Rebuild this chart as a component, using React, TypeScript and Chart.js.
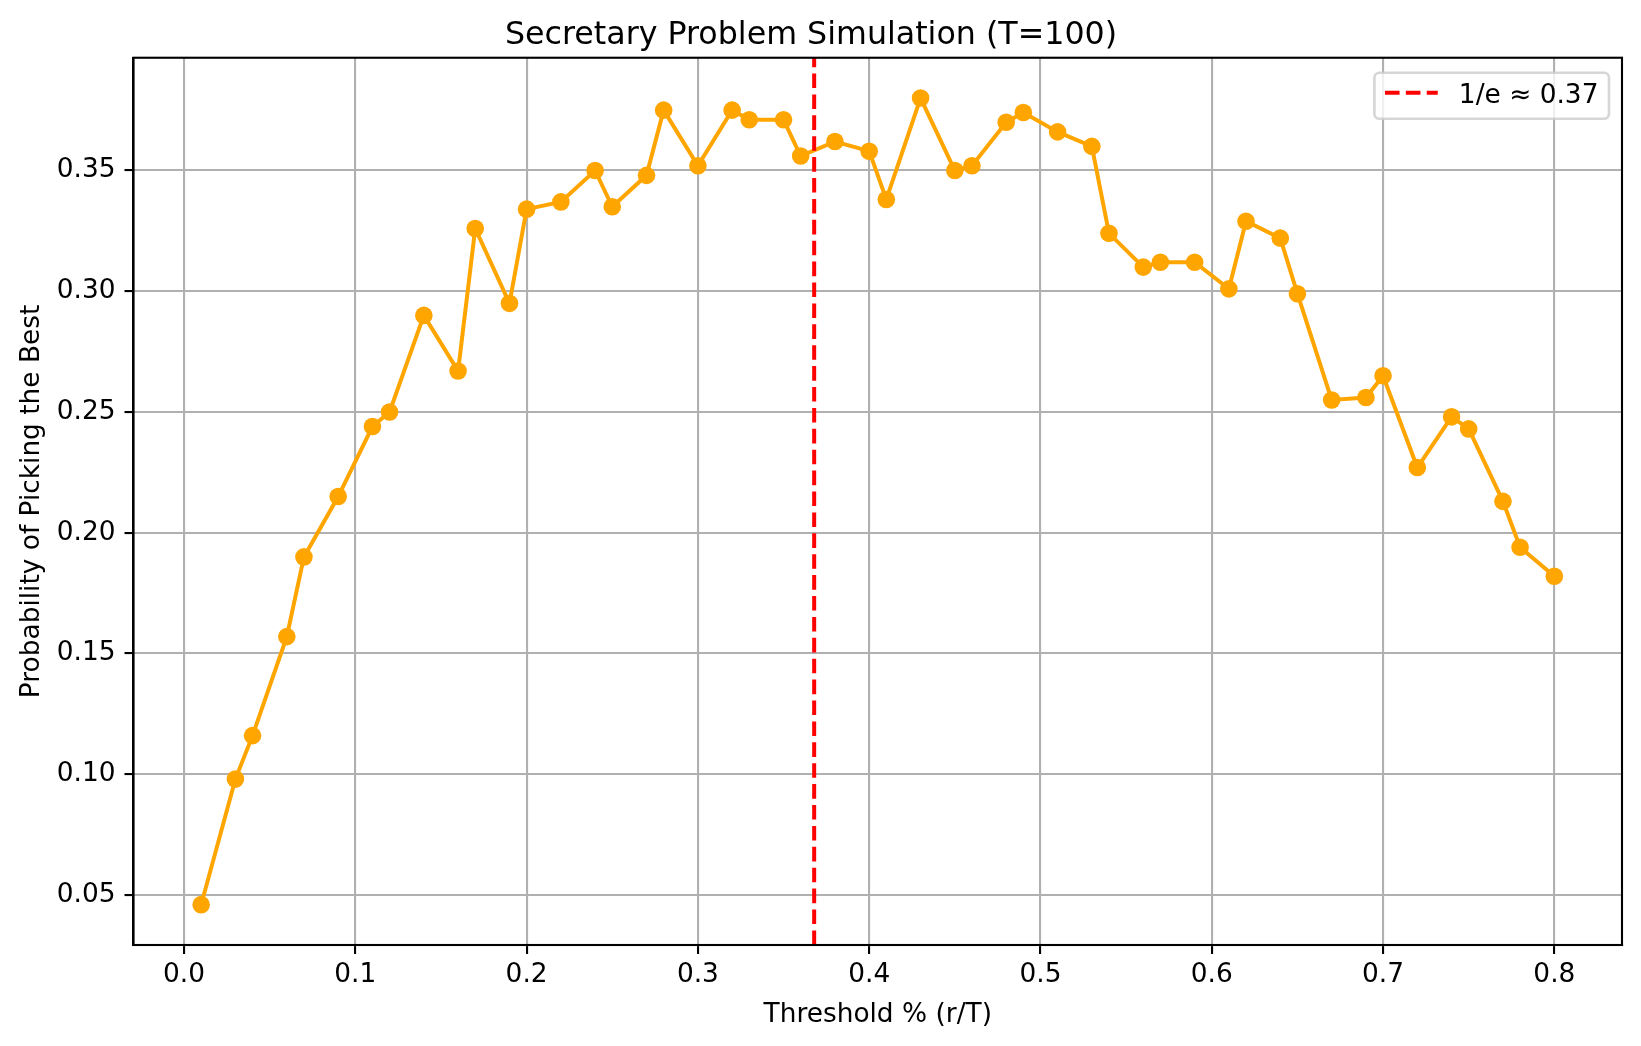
import React, { useEffect, useRef } from "react";
import { Chart, registerables } from "chart.js";

Chart.register(...registerables);

// ---- Data ----
const THRESHOLDS = [
  0.01, 0.03, 0.04, 0.06, 0.07, 0.09, 0.11, 0.12, 0.14, 0.16,
  0.17, 0.19, 0.2, 0.22, 0.24, 0.25, 0.27, 0.28, 0.3, 0.32,
  0.33, 0.35, 0.36, 0.38, 0.4, 0.41, 0.43, 0.45, 0.46, 0.48,
  0.49, 0.51, 0.53, 0.54, 0.56, 0.57, 0.59, 0.61, 0.62, 0.64,
  0.65, 0.67, 0.69, 0.7, 0.72, 0.74, 0.75, 0.77, 0.78, 0.8,
];
const PROBABILITIES = [
  0.046, 0.098, 0.116, 0.157, 0.19, 0.215, 0.244, 0.25, 0.29, 0.267,
  0.326, 0.295, 0.334, 0.337, 0.35, 0.335, 0.348, 0.375, 0.352, 0.375,
  0.371, 0.371, 0.356, 0.362, 0.358, 0.338, 0.38, 0.35, 0.352, 0.37,
  0.374, 0.366, 0.36, 0.324, 0.31, 0.312, 0.312, 0.301, 0.329, 0.322,
  0.299, 0.255, 0.256, 0.265, 0.227, 0.248, 0.243, 0.213, 0.194, 0.182,
];
const INV_E = 1 / Math.E;

const X_TICKS = [0, 0.1, 0.2, 0.3, 0.4, 0.5, 0.6, 0.7, 0.8];
const X_TICK_LABELS = ["0.0", "0.1", "0.2", "0.3", "0.4", "0.5", "0.6", "0.7", "0.8"];
const Y_TICKS = [0.05, 0.1, 0.15, 0.2, 0.25, 0.3, 0.35];
const Y_TICK_LABELS = ["0.05", "0.10", "0.15", "0.20", "0.25", "0.30", "0.35"];

const TITLE = "Secretary Problem Simulation (T=100)";
const X_LABEL = "Threshold % (r/T)";
const Y_LABEL = "Probability of Picking the Best";
const SERIES_LABEL = "Probability";
const LINE_LABEL = "1/e ≈ 0.37";

// ---- Axis limits (matplotlib-style 5% margins) ----
const xMinD = Math.min(...THRESHOLDS);
const xMaxD = Math.max(...THRESHOLDS);
const yMinD = Math.min(...PROBABILITIES);
const yMaxD = Math.max(...PROBABILITIES);
const X_MIN = xMinD - 0.05 * (xMaxD - xMinD);
const X_MAX = xMaxD + 0.05 * (xMaxD - xMinD);
const Y_MIN = yMinD - 0.05 * (yMaxD - yMinD);
const Y_MAX = yMaxD + 0.05 * (yMaxD - yMinD);

const FONT = "DejaVu Sans";
const FS = 26.4;

const framePlugin = {
  id: "frame",
  afterDatasetsDraw(chart: any) {
    const { ctx, chartArea: a } = chart;
    ctx.save();
    ctx.strokeStyle = "#000";
    ctx.lineWidth = 2.1;
    ctx.strokeRect(a.left, a.top, a.right - a.left, a.bottom - a.top);
    ctx.restore();
  },
};

const legendPlugin = {
  id: "boxLegend",
  afterDraw(chart: any) {
    const { ctx, chartArea: a } = chart;
    const ds = chart.data.datasets.find((d: any) => d.inLegend);
    if (!ds) return;
    ctx.save();
    ctx.font = `${FS}px "${FONT}"`;
    const tw = ctx.measureText(ds.label).width;
    const pad = 0.4 * FS;
    const handle = 2 * FS;
    const gap = 0.8 * FS;
    const w = pad * 2 + handle + gap + tw;
    const h = 46;
    const right = a.right - 13;
    const top = a.top + 15;
    const left = right - w;
    const r = 5;
    ctx.beginPath();
    ctx.moveTo(left + r, top);
    ctx.lineTo(left + w - r, top);
    ctx.arcTo(left + w, top, left + w, top + r, r);
    ctx.lineTo(left + w, top + h - r);
    ctx.arcTo(left + w, top + h, left + w - r, top + h, r);
    ctx.lineTo(left + r, top + h);
    ctx.arcTo(left, top + h, left, top + h - r, r);
    ctx.lineTo(left, top + r);
    ctx.arcTo(left, top, left + r, top, r);
    ctx.closePath();
    ctx.fillStyle = "rgba(255,255,255,0.8)";
    ctx.fill();
    ctx.strokeStyle = "rgba(204,204,204,0.8)";
    ctx.lineWidth = 2.6;
    ctx.stroke();
    // handle
    ctx.beginPath();
    ctx.setLineDash(ds.borderDash || []);
    ctx.strokeStyle = ds.borderColor;
    ctx.lineWidth = ds.borderWidth;
    const ly = top + 20;
    ctx.moveTo(left + pad, ly);
    ctx.lineTo(left + pad + handle, ly);
    ctx.stroke();
    ctx.setLineDash([]);
    ctx.fillStyle = "#000";
    ctx.textBaseline = "alphabetic";
    ctx.textAlign = "left";
    ctx.fillText(ds.label, left + pad + handle + gap, top + 30.5);
    ctx.restore();
  },
};

export default function App() {
  const ref = useRef<HTMLCanvasElement | null>(null);

  useEffect(() => {
    document.body.style.margin = "0";
    if (!ref.current) return;
    Chart.defaults.font.family = FONT;
    Chart.defaults.color = "#000";

    const chart = new Chart(ref.current, {
      type: "line",
      data: {
        datasets: [
          {
            label: SERIES_LABEL,
            data: THRESHOLDS.map((x, i) => ({ x, y: PROBABILITIES[i] })),
            borderColor: "#ffa500",
            backgroundColor: "#ffa500",
            borderWidth: 4,
            pointRadius: 8.8,
            pointHoverRadius: 8.8,
            pointBorderWidth: 0,
            pointBackgroundColor: "#ffa500",
            tension: 0,
            fill: false,
            order: 2,
          } as any,
          {
            label: LINE_LABEL,
            data: [
              { x: INV_E, y: Y_MIN },
              { x: INV_E, y: Y_MAX },
            ],
            borderColor: "#ff0000",
            backgroundColor: "#ff0000",
            borderWidth: 4,
            borderDash: [14.6, 6.3],
            pointRadius: 0,
            fill: false,
            order: 1,
            inLegend: true,
          } as any,
        ],
      },
      options: {
        animation: false,
        responsive: false,
        devicePixelRatio: 1,
        layout: { padding: { left: 0, right: 19, top: 0, bottom: 0 } },
        plugins: {
          legend: { display: false },
          tooltip: { enabled: false },
          title: {
            display: true,
            text: TITLE,
            color: "#000",
            font: { family: FONT, size: 31.7, weight: "normal", lineHeight: 1.2 },
            padding: { top: 17, bottom: 2.7 },
          },
        },
        scales: {
          x: {
            type: "linear",
            min: X_MIN,
            max: X_MAX,
            afterFit(scale: any) {
              scale.height = 101;
            },
            afterBuildTicks(scale: any) {
              scale.ticks = X_TICKS.map((v) => ({ value: v }));
            },
            ticks: {
              callback: (_v: any, i: number) => X_TICK_LABELS[i],
              font: { family: FONT, size: FS },
              color: "#000",
              padding: 5,
              maxRotation: 0,
              autoSkip: false,
            },
            grid: {
              color: "#b0b0b0",
              lineWidth: 2.1,
              tickColor: "#000",
              tickLength: 9,
              tickWidth: 2.1,
            },
            border: { display: true, color: "#000", width: 2.1 },
            title: {
              display: true,
              text: X_LABEL,
              color: "#000",
              font: { family: FONT, size: FS, lineHeight: 1.2 },
              padding: { top: 0, bottom: 15.5 },
            },
          },
          y: {
            type: "linear",
            min: Y_MIN,
            max: Y_MAX,
            afterFit(scale: any) {
              scale.width = 133.5;
            },
            afterBuildTicks(scale: any) {
              scale.ticks = Y_TICKS.map((v) => ({ value: v }));
            },
            ticks: {
              callback: (_v: any, i: number) => Y_TICK_LABELS[i],
              font: { family: FONT, size: FS },
              color: "#000",
              padding: 9,
              autoSkip: false,
            },
            grid: {
              color: "#b0b0b0",
              lineWidth: 2.1,
              tickColor: "#000",
              tickLength: 9,
              tickWidth: 2.1,
            },
            border: { display: true, color: "#000", width: 2.1 },
            title: {
              display: true,
              text: Y_LABEL,
              color: "#000",
              font: { family: FONT, size: FS, lineHeight: 1.2 },
              padding: { top: 16, bottom: 0 },
            },
          },
        },
      },
      plugins: [framePlugin, legendPlugin],
    } as any);

    return () => chart.destroy();
  }, []);

  return (
    <div style={{ position: "absolute", left: 0, top: 0, width: 1641, height: 1046, background: "#fff" }}>
      <canvas ref={ref} width={1641} height={1046} style={{ width: 1641, height: 1046, display: "block" }} />
    </div>
  );
}
